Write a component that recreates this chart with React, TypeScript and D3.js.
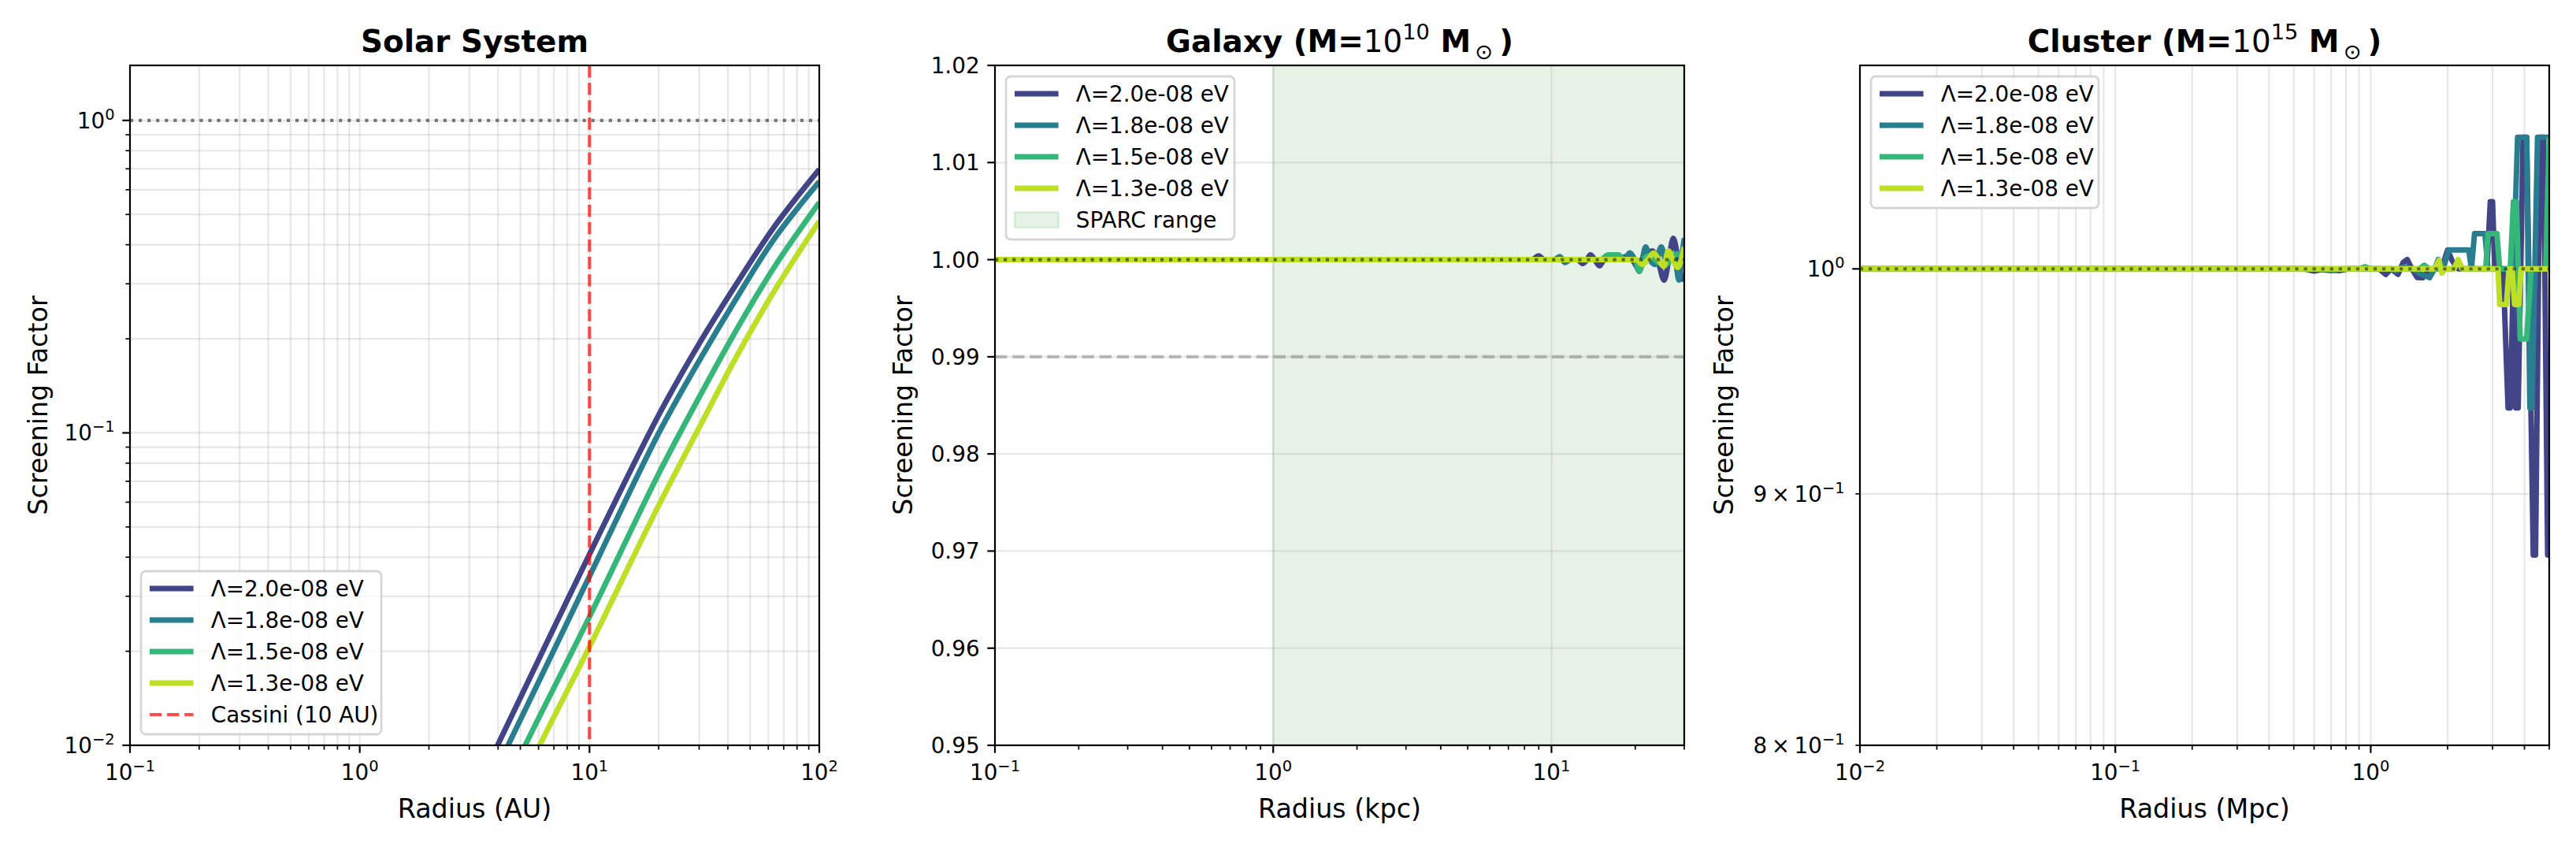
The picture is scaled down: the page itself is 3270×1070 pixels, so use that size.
import React, { useEffect, useRef } from "react";
import * as d3 from "d3";

// ---- data ----
const lambdaLabels = ["Λ=2.0e-08 eV", "Λ=1.8e-08 eV", "Λ=1.5e-08 eV", "Λ=1.3e-08 eV"];
const lambdaColors = ["#414487", "#287d8e", "#35b779", "#bddf26"];

// Solar system, radius in AU -> screening factor
const solarR20 = [3.5, 3.98, 10, 20, 30, 43, 64, 100];
const solarF20 = [0.0082, 0.01, 0.0409, 0.114, 0.193, 0.295, 0.459, 0.697];
const solarR18 = [3.9, 4.42, 10, 20, 30, 43, 64, 100];
const solarF18 = [0.0083, 0.01, 0.0348, 0.0997, 0.17, 0.265, 0.42, 0.637];
const solarR15 = [4.6, 5.25, 10, 20, 30, 43, 64, 100];
const solarF15 = [0.0081, 0.01, 0.0258, 0.074, 0.13, 0.21, 0.341, 0.546];
const solarR13 = [5.3, 6.07, 10, 20, 30, 43, 64, 100];
const solarF13 = [0.0081, 0.01, 0.0207, 0.0586, 0.104, 0.172, 0.286, 0.476];
const cassiniAU = 10;

// Galaxy, radius in kpc
const galaxy20 = [[0.1, 1], [8.5, 1], [9.0, 1.0004], [9.4, 1], [12.4, 1], [12.96, 0.9996], [13.4, 1], [13.8, 1.0005], [14.3, 1], [14.9, 0.99937], [15.5, 1], [17.5, 1], [18.5, 1.0003], [19.5, 1], [20.7, 0.999], [21.5, 1], [23, 1.0009], [24.1, 1], [25.4, 0.9979], [26.4, 1], [27.4, 1.0022], [28.5, 1], [29.5, 0.998], [30, 0.9985]];
const galaxy18 = [[0.1, 1], [10.2, 1], [10.7, 1.0003], [11.2, 0.9997], [11.7, 1], [18.3, 1], [19.1, 1.0007], [19.9, 1], [20.7, 0.9988], [21.2, 1], [21.8, 1.0013], [22.6, 1], [23.6, 0.9995], [24.8, 1.0013], [25.8, 1], [27.8, 1], [28.7, 0.9979], [29.3, 1], [30, 1.0022]];
const galaxy15 = [[0.1, 1], [15.0, 1], [16.0, 1.0005], [17.4, 1.0005], [18.2, 1], [20, 1], [20.7, 0.9988], [21.4, 1], [22.5, 1.0004], [23.5, 1], [25.6, 0.9994], [26.8, 1], [28.2, 1.0006], [30, 1]];
const galaxy13 = [[0.1, 1], [20.2, 1], [21.2, 0.9995], [22.2, 1], [23.3, 1.0007], [24.3, 1], [25.3, 0.9993], [26.3, 1.0009], [27.3, 1], [28.4, 0.9992], [29.3, 1], [30, 1.0013]];
const sparcRange = [1, 30];
const galaxyYTicks = [0.95, 0.96, 0.97, 0.98, 0.99, 1.0, 1.01, 1.02];

// Cluster, radius in Mpc
const cluster20 = [[0.01, 1], [0.55, 1], [0.6, 0.999], [0.66, 1], [0.75, 0.9992], [0.82, 1], [1.08, 1], [1.145, 0.9974], [1.2, 1], [1.28, 0.9975], [1.34, 1.003], [1.39, 1.0044], [1.45, 1], [1.52, 0.996], [1.6, 0.9959], [1.68, 0.999], [1.8, 1], [1.93, 1.003], [2.0, 1.0089], [2.08, 1.004], [2.2, 1], [2.85, 1], [2.94, 1.032], [3.0, 1.032], [3.06, 1], [3.3, 1], [3.45, 0.937], [3.52, 0.937], [3.62, 1], [3.7, 0.937], [3.78, 0.937], [3.95, 1.0636], [4.08, 1.0636], [4.33, 0.8746], [4.42, 0.8746], [4.6, 1.0636], [4.75, 1.0636], [4.93, 0.8746], [5.0, 0.8746]];
const cluster18 = [[0.01, 1], [0.6, 1], [0.7, 0.9992], [0.78, 1], [1.2, 1], [1.25, 0.999], [1.35, 1.001], [1.45, 1], [1.55, 0.998], [1.62, 0.997], [1.7, 0.9959], [1.78, 1], [1.84, 1.0044], [1.92, 1], [2.02, 1.0089], [2.42, 1.0089], [2.48, 1], [2.55, 1.0167], [2.8, 1.0167], [2.88, 1], [3.62, 1], [3.76, 1.0636], [4.08, 1.0636], [4.2, 0.937], [4.28, 0.937], [4.5, 1.0636], [5.0, 1.0636]];
const cluster15 = [[0.01, 1], [0.9, 1], [0.95, 1.001], [1.0, 1], [1.55, 1], [1.62, 1.0017], [1.7, 1], [2.1, 1], [2.2, 1.003], [2.3, 1], [2.82, 1], [2.88, 1.0167], [3.12, 1.0167], [3.2, 1], [3.52, 1], [3.62, 1.032], [3.72, 1.032], [3.85, 0.9677], [4.08, 0.9677], [4.25, 1], [4.85, 1], [5.0, 1.0636]];
const cluster13 = [[0.01, 1], [1.78, 1], [1.85, 1.004], [1.9, 0.998], [1.95, 1], [2.12, 1], [2.2, 1.0044], [2.28, 1], [3.15, 1], [3.2, 0.9835], [3.4, 0.9835], [3.48, 1], [3.58, 1], [3.66, 0.9835], [3.8, 0.9835], [3.88, 1], [5.0, 1]];

const zip = (r: number[], f: number[]) => r.map((v, i) => [v, f[i]]);

// ---- layout ----
const W = 3270, H = 1070;
const TOP = 83, BOTTOM = 946, PW = 875;
const FS_TICK = 27.8, FS_LABEL = 33.3, FS_TITLE = 38.9, FS_LEG = 27.8;
const FONT = "DejaVu Sans";
const LW = 7;

const panels = [
  {
    key: "solar", left: 165, xDomain: [0.1, 100], yDomain: [0.01, 1.5], yLog: true,
    gridMinor: true, yMinorLabels: false, curve: d3.curveCatmullRom.alpha(0.5),
    series: [zip(solarR20, solarF20), zip(solarR18, solarF18), zip(solarR15, solarF15), zip(solarR13, solarF13)],
    title: [{ t: "Solar System", w: "bold" }],
    xLabel: "Radius (AU)", yLabelX: 60,
    legend: { w: 305, where: "lower", extra: [{ label: "Cassini (10 AU)", type: "dash" }] },
  },
  {
    key: "galaxy", left: 1263, xDomain: [0.1, 30], yDomain: [0.95, 1.02], yLog: false,
    gridMinor: false, yMinorLabels: false, curve: d3.curveMonotoneX,
    series: [galaxy20, galaxy18, galaxy15, galaxy13],
    title: [
      { t: "Galaxy (M=", w: "bold" }, { t: "10", w: "normal" },
      { t: "10", w: "normal", s: 0.7, dy: -0.42 }, { t: "\u00a0M", w: "bold", dy: 0.42 },
      { t: "\u2009⊙", w: "normal", s: 0.7, dy: 0.22 }, { t: "\u2009)", w: "bold", dy: -0.22 },
    ],
    xLabel: "Radius (kpc)", yLabelX: 1158,
    legend: { w: 290, where: "upper", extra: [{ label: "SPARC range", type: "patch" }] },
  },
  {
    key: "cluster", left: 2361, xDomain: [0.01, 5], yDomain: [0.8, 1.1], yLog: true,
    gridMinor: true, yMinorLabels: true, curve: d3.curveLinear,
    series: [cluster20, cluster18, cluster15, cluster13],
    title: [
      { t: "Cluster (M=", w: "bold" }, { t: "10", w: "normal" },
      { t: "15", w: "normal", s: 0.7, dy: -0.42 }, { t: "\u00a0M", w: "bold", dy: 0.42 },
      { t: "\u2009⊙", w: "normal", s: 0.7, dy: 0.22 }, { t: "\u2009)", w: "bold", dy: -0.22 },
    ],
    xLabel: "Radius (Mpc)", yLabelX: 2200,
    legend: { w: 289, where: "upper", extra: [] },
  },
];

function logTicks(domain: number[]) {
  const [a, b] = domain;
  const out: { v: number; m: number; e: number; major: boolean }[] = [];
  for (let e = Math.floor(Math.log10(a)); e <= Math.ceil(Math.log10(b)); e++) {
    for (let m = 1; m <= 9; m++) {
      const v = m * Math.pow(10, e);
      if (v >= a * 0.9999 && v <= b * 1.0001) out.push({ v, m, e, major: m === 1 });
    }
  }
  return out;
}

function powLabel(text: any, m: number, e: number, fs: number) {
  const base = m === 1 ? "10" : `${m}\u2009×\u200910`;
  text.append("tspan").text(base);
  text.append("tspan").attr("dy", -fs * 0.4).attr("font-size", fs * 0.7)
    .text(e < 0 ? "\u2212" + Math.abs(e) : String(e));
}

function drawPanel(svg: any, p: any) {
  const right = p.left + PW;
  const x = d3.scaleLog().domain(p.xDomain).range([p.left, right]);
  const y = (p.yLog ? d3.scaleLog() : d3.scaleLinear()).domain(p.yDomain).range([BOTTOM, TOP]);
  const g = svg.append("g");

  const clipId = "clip-" + p.key;
  svg.append("clipPath").attr("id", clipId).append("rect")
    .attr("x", p.left).attr("y", TOP).attr("width", PW).attr("height", BOTTOM - TOP);
  const plot = g.append("g").attr("clip-path", `url(#${clipId})`);

  // SPARC span
  if (p.key === "galaxy") {
    plot.append("rect")
      .attr("x", x(sparcRange[0])).attr("y", TOP)
      .attr("width", x(sparcRange[1]) - x(sparcRange[0])).attr("height", BOTTOM - TOP)
      .attr("fill", "green").attr("fill-opacity", 0.1)
      .attr("stroke", "green").attr("stroke-opacity", 0.1).attr("stroke-width", 2.8);
  }

  const xt = logTicks(p.xDomain);
  const yt = p.yLog ? logTicks(p.yDomain) : galaxyYTicks.map(v => ({ v, m: 0, e: 0, major: true }));

  // grid
  const grid = plot.append("g").attr("stroke", "#b0b0b0").attr("stroke-opacity", 0.3).attr("stroke-width", 2.2);
  xt.filter(t => t.major || p.gridMinor).forEach(t => {
    grid.append("line").attr("x1", x(t.v)).attr("x2", x(t.v)).attr("y1", TOP).attr("y2", BOTTOM);
  });
  yt.filter(t => t.major || p.gridMinor).forEach(t => {
    grid.append("line").attr("x1", p.left).attr("x2", right).attr("y1", y(t.v)).attr("y2", y(t.v));
  });

  // series
  const line = d3.line<any>().x(d => x(d[0])).y(d => y(d[1])).curve(p.curve);
  p.series.forEach((s: any, i: number) => {
    plot.append("path").attr("d", line(s)).attr("fill", "none")
      .attr("stroke", lambdaColors[i]).attr("stroke-width", LW)
      .attr("stroke-linejoin", "round");
  });

  // reference lines
  if (p.key === "galaxy") {
    plot.append("line").attr("x1", p.left).attr("x2", right).attr("y1", y(0.99)).attr("y2", y(0.99))
      .attr("stroke", "gray").attr("stroke-opacity", 0.5).attr("stroke-width", 4.17)
      .attr("stroke-dasharray", "15.4,6.7");
  }
  plot.append("line").attr("x1", p.left).attr("x2", right).attr("y1", y(1)).attr("y2", y(1))
    .attr("stroke", "black").attr("stroke-opacity", 0.5).attr("stroke-width", 4.17)
    .attr("stroke-dasharray", "4.17,6.88");
  if (p.key === "solar") {
    plot.append("line").attr("x1", x(cassiniAU)).attr("x2", x(cassiniAU)).attr("y1", TOP).attr("y2", BOTTOM)
      .attr("stroke", "red").attr("stroke-opacity", 0.7).attr("stroke-width", 4.17)
      .attr("stroke-dasharray", "15.4,6.7");
  }

  // spines
  g.append("rect").attr("x", p.left).attr("y", TOP).attr("width", PW).attr("height", BOTTOM - TOP)
    .attr("fill", "none").attr("stroke", "#000").attr("stroke-width", 2.2);

  // x ticks
  xt.forEach(t => {
    g.append("line").attr("x1", x(t.v)).attr("x2", x(t.v)).attr("y1", BOTTOM)
      .attr("y2", BOTTOM + (t.major ? 9.7 : 5.6)).attr("stroke", "#000").attr("stroke-width", t.major ? 2.2 : 1.7);
    if (t.major) {
      const tx = g.append("text").attr("x", x(t.v)).attr("y", 990).attr("text-anchor", "middle")
        .attr("font-size", FS_TICK).attr("fill", "#000");
      powLabel(tx, 1, t.e, FS_TICK);
    }
  });

  // y ticks
  yt.forEach(t => {
    const yy = y(t.v);
    g.append("line").attr("x1", p.left - (t.major ? 9.7 : 5.6)).attr("x2", p.left).attr("y1", yy).attr("y2", yy)
      .attr("stroke", "#000").attr("stroke-width", t.major ? 2.2 : 1.7);
    const tx = g.append("text").attr("x", p.left - 19.4).attr("y", yy + 10).attr("text-anchor", "end")
      .attr("font-size", FS_TICK).attr("fill", "#000");
    if (!p.yLog) tx.text(t.v.toFixed(2));
    else if (t.major || p.yMinorLabels) powLabel(tx, t.m, t.e, FS_TICK);
  });

  // labels
  g.append("text").attr("x", p.left + PW / 2).attr("y", 1038).attr("text-anchor", "middle")
    .attr("font-size", FS_LABEL).text(p.xLabel);
  g.append("text").attr("transform", `translate(${p.yLabelX},${(TOP + BOTTOM) / 2}) rotate(-90)`)
    .attr("text-anchor", "middle").attr("font-size", FS_LABEL).text("Screening Factor");
  const title = g.append("text").attr("x", p.left + PW / 2).attr("y", 66).attr("text-anchor", "middle")
    .attr("font-size", FS_TITLE);
  p.title.forEach((part: any) => {
    const ts = title.append("tspan").attr("font-weight", part.w).text(part.t);
    if (part.s) ts.attr("font-size", FS_TITLE * part.s);
    if (part.dy) ts.attr("dy", FS_TITLE * part.dy);
  });

  // legend
  const entries = lambdaLabels.map((label, i) => ({ label, type: "line", color: lambdaColors[i] }))
    .concat(p.legend.extra);
  const lh = 47 + (entries.length - 1) * 40;
  const lx = p.left + 14;
  const ly = p.legend.where === "lower" ? BOTTOM - 14 - lh : TOP + 14;
  const leg = g.append("g");
  leg.append("rect").attr("x", lx).attr("y", ly).attr("width", p.legend.w).attr("height", lh)
    .attr("rx", 6).attr("fill", "#fff").attr("fill-opacity", 0.8)
    .attr("stroke", "#cccccc").attr("stroke-opacity", 0.8).attr("stroke-width", 2.8);
  entries.forEach((en: any, i: number) => {
    const ry = ly + 22 + i * 40;
    const hx = lx + 11;
    if (en.type === "line") {
      leg.append("line").attr("x1", hx).attr("x2", hx + 55.6).attr("y1", ry).attr("y2", ry)
        .attr("stroke", en.color).attr("stroke-width", LW);
    } else if (en.type === "dash") {
      leg.append("line").attr("x1", hx).attr("x2", hx + 55.6).attr("y1", ry).attr("y2", ry)
        .attr("stroke", "red").attr("stroke-opacity", 0.7).attr("stroke-width", 4.17)
        .attr("stroke-dasharray", "15.4,6.7");
    } else {
      leg.append("rect").attr("x", hx).attr("y", ry - 9.7).attr("width", 55.6).attr("height", 19.5)
        .attr("fill", "green").attr("fill-opacity", 0.1)
        .attr("stroke", "green").attr("stroke-opacity", 0.1).attr("stroke-width", 2.8);
    }
    leg.append("text").attr("x", hx + 55.6 + 22.2).attr("y", ry + 9.7)
      .attr("font-size", FS_LEG).text(en.label);
  });
}

export default function App() {
  const ref = useRef<SVGSVGElement>(null);

  useEffect(() => {
    const svg = d3.select(ref.current);
    svg.selectAll("*").remove();
    panels.forEach(p => drawPanel(svg, p));
  }, []);

  return (
    <svg
      ref={ref}
      width={W}
      height={H}
      fontFamily={FONT}
      style={{ position: "absolute", left: 0, top: 0, background: "#fff" }}
    />
  );
}
